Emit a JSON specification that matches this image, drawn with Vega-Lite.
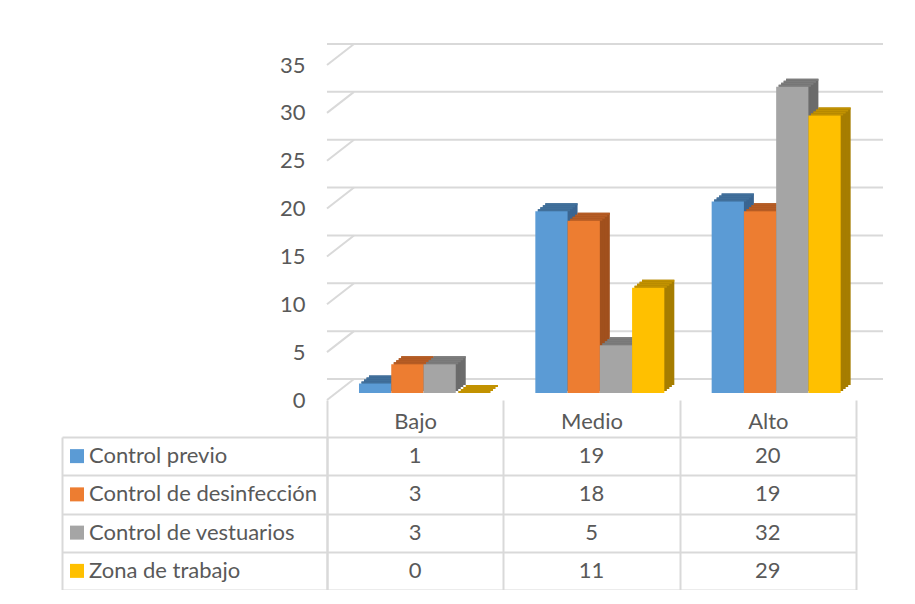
{
  "$schema": "https://vega.github.io/schema/vega-lite/v6.json",
  "background": "white",
  "padding": {"left": 62, "top": 43, "right": 0, "bottom": 0},
  "config": {"view": {"stroke": null}, "font": "Lato"},
  "datasets": {
    "d": [
      {"cat": "Bajo", "serie": "Control previo", "v": 1},
      {"cat": "Bajo", "serie": "Control de desinfección", "v": 3},
      {"cat": "Bajo", "serie": "Control de vestuarios", "v": 3},
      {"cat": "Bajo", "serie": "Zona de trabajo", "v": 0},
      {"cat": "Medio", "serie": "Control previo", "v": 19},
      {"cat": "Medio", "serie": "Control de desinfección", "v": 18},
      {"cat": "Medio", "serie": "Control de vestuarios", "v": 5},
      {"cat": "Medio", "serie": "Zona de trabajo", "v": 11},
      {"cat": "Alto", "serie": "Control previo", "v": 20},
      {"cat": "Alto", "serie": "Control de desinfección", "v": 19},
      {"cat": "Alto", "serie": "Control de vestuarios", "v": 32},
      {"cat": "Alto", "serie": "Zona de trabajo", "v": 29}
    ],
    "g": [{"t": 0}, {"t": 5}, {"t": 10}, {"t": 15}, {"t": 20}, {"t": 25}, {"t": 30}, {"t": 35}],
    "s": [
      {"serie": "Control previo"},
      {"serie": "Control de desinfección"},
      {"serie": "Control de vestuarios"},
      {"serie": "Zona de trabajo"}
    ]
  },
  "columns": 2,
  "bounds": "flush",
  "spacing": {"row": 37, "column": 0},
  "resolve": {"scale": {"color": "independent"}},
  "concat": [
    {
      "width": 265,
      "height": 335,
      "data": {"values": []},
      "mark": "point",
      "encoding": {}
    },
    {
      "width": 529,
      "height": 335,
      "data": {"name": "d"},
      "resolve": {"scale": {"color": "independent", "xOffset": "independent"}},
      "layer": [
        {
          "data": {"name": "g"},
          "mark": {"type": "rule", "color": "#d9d9d9", "strokeWidth": 2, "xOffset": 27, "x2Offset": 28, "yOffset": -21, "y2Offset": -21},
          "encoding": {
            "y": {
              "field": "t", "type": "quantitative",
              "scale": {"domain": [0, 35], "nice": false},
              "axis": {"title": null, "domain": false, "ticks": false, "grid": false, "values": [0, 5, 10, 15, 20, 25, 30, 35], "labelPadding": 22, "labelFontSize": 22, "labelColor": "#595959", "labelFont": "Lato"}
            }
          }
        },
        {
          "data": {"name": "g"},
          "mark": {"type": "rule", "color": "#d9d9d9", "strokeWidth": 2, "x2Offset": 27, "y2Offset": -21},
          "encoding": {
            "x": {"datum": "Bajo", "type": "nominal", "bandPosition": 0},
            "x2": {"datum": "Bajo", "bandPosition": 0},
            "y": {"field": "t", "type": "quantitative"},
            "y2": {"field": "t"}
          }
        },
        {
          "mark": {"type": "bar", "yOffset": -15, "y2Offset": -15},
          "encoding": {
            "x": {"field": "cat", "type": "nominal", "sort": ["Bajo", "Medio", "Alto"],
              "scale": {"domain": ["Bajo", "Medio", "Alto"], "paddingInner": 0, "paddingOuter": 0},
              "axis": {"title": null, "domain": false, "labelAngle": 0, "labelAlign": "center", "tickBand": "extent", "tickSize": 37, "tickColor": "#d9d9d9", "tickWidth": 2, "labelPadding": -16, "labelBaseline": "middle", "labelFontSize": 22, "labelColor": "#595959", "labelFont": "Lato"}},
            "xOffset": {"field": "serie", "type": "nominal", "scale": {"domain": ["Control previo", "Control de desinfección", "Control de vestuarios", "Zona de trabajo"], "paddingInner": 0, "paddingOuter": 0.7338, "align": 0.887}},
            "y": {"field": "v", "type": "quantitative", "stack": null},
            "y2": {"datum": 0},
            "color": {"field": "serie", "type": "nominal", "legend": null,
              "scale": {"domain": ["Control previo", "Control de desinfección", "Control de vestuarios", "Zona de trabajo"], "range": ["#3A6591", "#A1501D", "#6B6B6B", "#A67D00"]}}
          }
        },
        {
          "mark": {"type": "bar", "yOffset": -15, "y2Offset": -13},
          "encoding": {
            "x": {"field": "cat", "type": "nominal"},
            "xOffset": {"field": "serie", "type": "nominal", "scale": {"domain": ["Control previo", "Control de desinfección", "Control de vestuarios", "Zona de trabajo"], "paddingInner": 0, "paddingOuter": 0.7338, "align": 0.887}},
            "y": {"field": "v", "type": "quantitative", "stack": null},
            "y2": {"field": "v"},
            "color": {"field": "serie", "type": "nominal", "legend": null,
              "scale": {"domain": ["Control previo", "Control de desinfección", "Control de vestuarios", "Zona de trabajo"], "range": ["#41709B", "#B65C24", "#7C7C7C", "#C29200"]}}
          }
        },
        {
          "mark": {"type": "bar", "yOffset": -13, "y2Offset": -13},
          "encoding": {
            "x": {"field": "cat", "type": "nominal"},
            "xOffset": {"field": "serie", "type": "nominal", "scale": {"domain": ["Control previo", "Control de desinfección", "Control de vestuarios", "Zona de trabajo"], "paddingInner": 0, "paddingOuter": 0.7338, "align": 0.835}},
            "y": {"field": "v", "type": "quantitative", "stack": null},
            "y2": {"datum": 0},
            "color": {"field": "serie", "type": "nominal", "legend": null,
              "scale": {"domain": ["Control previo", "Control de desinfección", "Control de vestuarios", "Zona de trabajo"], "range": ["#3A6591", "#A1501D", "#6B6B6B", "#A67D00"]}}
          }
        },
        {
          "mark": {"type": "bar", "yOffset": -13, "y2Offset": -11},
          "encoding": {
            "x": {"field": "cat", "type": "nominal"},
            "xOffset": {"field": "serie", "type": "nominal", "scale": {"domain": ["Control previo", "Control de desinfección", "Control de vestuarios", "Zona de trabajo"], "paddingInner": 0, "paddingOuter": 0.7338, "align": 0.835}},
            "y": {"field": "v", "type": "quantitative", "stack": null},
            "y2": {"field": "v"},
            "color": {"field": "serie", "type": "nominal", "legend": null,
              "scale": {"domain": ["Control previo", "Control de desinfección", "Control de vestuarios", "Zona de trabajo"], "range": ["#41709B", "#B65C24", "#7C7C7C", "#C29200"]}}
          }
        },
        {
          "mark": {"type": "bar", "yOffset": -11, "y2Offset": -11},
          "encoding": {
            "x": {"field": "cat", "type": "nominal"},
            "xOffset": {"field": "serie", "type": "nominal", "scale": {"domain": ["Control previo", "Control de desinfección", "Control de vestuarios", "Zona de trabajo"], "paddingInner": 0, "paddingOuter": 0.7338, "align": 0.782}},
            "y": {"field": "v", "type": "quantitative", "stack": null},
            "y2": {"datum": 0},
            "color": {"field": "serie", "type": "nominal", "legend": null,
              "scale": {"domain": ["Control previo", "Control de desinfección", "Control de vestuarios", "Zona de trabajo"], "range": ["#3A6591", "#A1501D", "#6B6B6B", "#A67D00"]}}
          }
        },
        {
          "mark": {"type": "bar", "yOffset": -11, "y2Offset": -9},
          "encoding": {
            "x": {"field": "cat", "type": "nominal"},
            "xOffset": {"field": "serie", "type": "nominal", "scale": {"domain": ["Control previo", "Control de desinfección", "Control de vestuarios", "Zona de trabajo"], "paddingInner": 0, "paddingOuter": 0.7338, "align": 0.782}},
            "y": {"field": "v", "type": "quantitative", "stack": null},
            "y2": {"field": "v"},
            "color": {"field": "serie", "type": "nominal", "legend": null,
              "scale": {"domain": ["Control previo", "Control de desinfección", "Control de vestuarios", "Zona de trabajo"], "range": ["#41709B", "#B65C24", "#7C7C7C", "#C29200"]}}
          }
        },
        {
          "mark": {"type": "bar", "yOffset": -9, "y2Offset": -9},
          "encoding": {
            "x": {"field": "cat", "type": "nominal"},
            "xOffset": {"field": "serie", "type": "nominal", "scale": {"domain": ["Control previo", "Control de desinfección", "Control de vestuarios", "Zona de trabajo"], "paddingInner": 0, "paddingOuter": 0.7338, "align": 0.729}},
            "y": {"field": "v", "type": "quantitative", "stack": null},
            "y2": {"datum": 0},
            "color": {"field": "serie", "type": "nominal", "legend": null,
              "scale": {"domain": ["Control previo", "Control de desinfección", "Control de vestuarios", "Zona de trabajo"], "range": ["#3A6591", "#A1501D", "#6B6B6B", "#A67D00"]}}
          }
        },
        {
          "mark": {"type": "bar", "yOffset": -9, "y2Offset": -7},
          "encoding": {
            "x": {"field": "cat", "type": "nominal"},
            "xOffset": {"field": "serie", "type": "nominal", "scale": {"domain": ["Control previo", "Control de desinfección", "Control de vestuarios", "Zona de trabajo"], "paddingInner": 0, "paddingOuter": 0.7338, "align": 0.729}},
            "y": {"field": "v", "type": "quantitative", "stack": null},
            "y2": {"field": "v"},
            "color": {"field": "serie", "type": "nominal", "legend": null,
              "scale": {"domain": ["Control previo", "Control de desinfección", "Control de vestuarios", "Zona de trabajo"], "range": ["#41709B", "#B65C24", "#7C7C7C", "#C29200"]}}
          }
        },
        {
          "mark": {"type": "bar", "yOffset": -7, "y2Offset": -7},
          "encoding": {
            "x": {"field": "cat", "type": "nominal"},
            "xOffset": {"field": "serie", "type": "nominal", "scale": {"domain": ["Control previo", "Control de desinfección", "Control de vestuarios", "Zona de trabajo"], "paddingInner": 0, "paddingOuter": 0.7338, "align": 0.676}},
            "y": {"field": "v", "type": "quantitative", "stack": null},
            "y2": {"datum": 0},
            "color": {"field": "serie", "type": "nominal", "legend": null,
              "scale": {"domain": ["Control previo", "Control de desinfección", "Control de vestuarios", "Zona de trabajo"], "range": ["#5B9BD5", "#ED7D31", "#A5A5A5", "#FFC000"]}}
          }
        }
      ]
    },
    {
      "width": 265,
      "height": 153,
      "data": {"name": "s"},
      "encoding": {
        "x": {"datum": "L", "type": "nominal", "bandPosition": 0,
          "scale": {"type": "band", "domain": ["L"], "paddingInner": 0, "paddingOuter": 0},
          "axis": {"title": null, "grid": true, "tickBand": "extent", "labels": false, "ticks": false, "domain": false, "gridColor": "#d9d9d9", "gridWidth": 2}},
        "y": {"field": "serie", "type": "nominal",
          "scale": {"type": "band", "domain": ["Control previo", "Control de desinfección", "Control de vestuarios", "Zona de trabajo"], "paddingInner": 0, "paddingOuter": 0},
          "axis": {"title": null, "grid": true, "tickBand": "extent", "labels": false, "ticks": false, "domain": false, "gridColor": "#d9d9d9", "gridWidth": 2}}
      },
      "layer": [
        {
          "mark": {"type": "point", "shape": "square", "filled": true, "size": 196, "opacity": 1, "xOffset": 15},
          "encoding": {
            "color": {"field": "serie", "type": "nominal", "legend": null,
              "scale": {"domain": ["Control previo", "Control de desinfección", "Control de vestuarios", "Zona de trabajo"], "range": ["#5B9BD5", "#ED7D31", "#A5A5A5", "#FFC000"]}}
          }
        },
        {
          "mark": {"type": "text", "align": "left", "baseline": "middle", "dx": 27, "fontSize": 22, "font": "Lato", "color": "#595959"},
          "encoding": {"text": {"field": "serie"}}
        }
      ]
    },
    {
      "width": 529,
      "height": 153,
      "data": {"name": "d"},
      "mark": {"type": "text", "baseline": "middle", "fontSize": 22, "font": "Lato", "color": "#595959"},
      "encoding": {
        "x": {"field": "cat", "type": "nominal",
          "scale": {"type": "band", "domain": ["Bajo", "Medio", "Alto"], "paddingInner": 0, "paddingOuter": 0},
          "axis": {"title": null, "grid": true, "tickBand": "extent", "labels": false, "ticks": false, "domain": false, "gridColor": "#d9d9d9", "gridWidth": 2}},
        "y": {"field": "serie", "type": "nominal",
          "scale": {"type": "band", "domain": ["Control previo", "Control de desinfección", "Control de vestuarios", "Zona de trabajo"], "paddingInner": 0, "paddingOuter": 0},
          "axis": {"title": null, "grid": true, "tickBand": "extent", "labels": false, "ticks": false, "domain": false, "gridColor": "#d9d9d9", "gridWidth": 2}},
        "text": {"field": "v", "type": "quantitative"}
      }
    }
  ]
}
